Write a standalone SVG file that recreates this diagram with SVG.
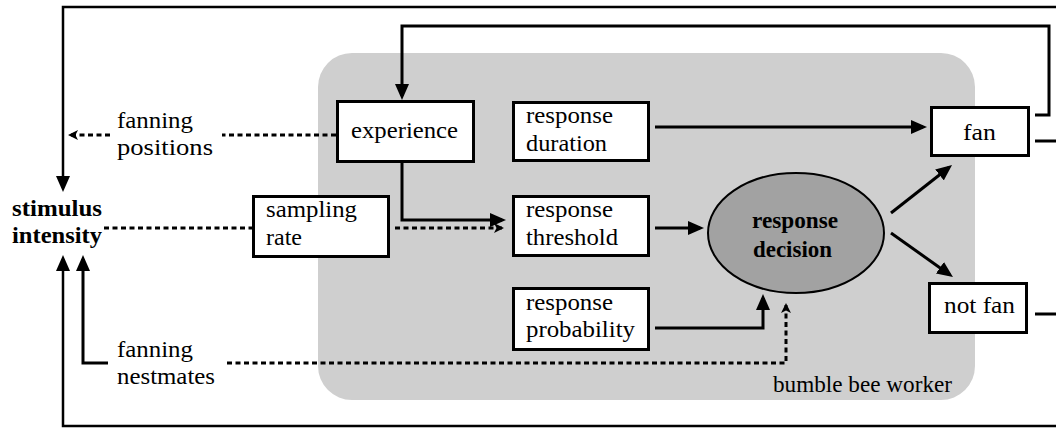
<svg xmlns="http://www.w3.org/2000/svg" width="1056" height="429" viewBox="0 0 1056 429">
  <style>
    .t { font-family: "Liberation Serif", "Times New Roman", serif; font-size: 24px; fill: #000; }
    .b { font-family: "Liberation Serif", "Times New Roman", serif; font-size: 24px; font-weight: bold; fill: #000; }
    .box { fill: #fff; stroke: #000; stroke-width: 3; }
    .solid { fill: none; stroke: #000; stroke-width: 3; }
    .frame { fill: none; stroke: #000; stroke-width: 2.5; }
    .dot { fill: none; stroke: #000; stroke-width: 3; stroke-dasharray: 5 3.5; }
  </style>
  <defs>
    <marker id="arr" viewBox="0 0 16 14" refX="12" refY="7" markerWidth="16" markerHeight="14" markerUnits="userSpaceOnUse" orient="auto">
      <path d="M0,0 L16,7 L0,14 z" fill="#000"/>
    </marker>
    <marker id="sarr" viewBox="0 0 10 10" refX="8" refY="5" markerWidth="10" markerHeight="10" markerUnits="userSpaceOnUse" orient="auto">
      <path d="M0,0 L10,5 L0,10 L2.5,5 z" fill="#000"/>
    </marker>
  </defs>

  <!-- worker body background -->
  <rect id="worker" x="318" y="53" width="657" height="347" rx="34" fill="#cfcfcf"/>

  <!-- connectors -->
  <g id="connectors">
    <!-- outer loops back to stimulus intensity -->
    <path class="frame" d="M1056,7 H63 V188" marker-end="url(#arr)"/>
    <path class="frame" d="M1056,426 H63 V259" marker-end="url(#arr)"/>
    <path class="solid" d="M108,363 H83 V259" marker-end="url(#arr)"/>
    <!-- fan feeds back into experience -->
    <path class="solid" d="M1035,115 H1049 V26 H402 V96" marker-end="url(#arr)"/>
    <path class="solid" d="M1035,141 H1056"/>
    <path class="solid" d="M1035,314 H1056"/>
    <!-- internal flow -->
    <path class="solid" d="M655,127 H923" marker-end="url(#arr)"/>
    <path class="solid" d="M655,228 H700" marker-end="url(#arr)"/>
    <path class="solid" d="M655,328 H763 V298" marker-end="url(#arr)"/>
    <path class="solid" d="M891,213 L948.9,167.5" marker-end="url(#arr)"/>
    <path class="solid" d="M891,233 L949.7,274.7" marker-end="url(#arr)"/>
    <path class="solid" d="M402,162 V220 H502" marker-end="url(#arr)"/>
    <!-- dotted information links -->
    <path class="dot" d="M395,228 H502" marker-end="url(#sarr)"/>
    <path class="dot" d="M104,228 H252"/>
    <path class="dot" d="M336,135 H222"/>
    <path class="dot" d="M110,135 H70" marker-end="url(#sarr)"/>
    <path class="dot" d="M227,363 H786 V305" marker-end="url(#sarr)"/>
  </g>

  <!-- external labels -->
  <g id="stimulus">
    <text class="b" x="12" y="216" textLength="90" lengthAdjust="spacingAndGlyphs">stimulus</text>
    <text class="b" x="12" y="243" textLength="90" lengthAdjust="spacingAndGlyphs">intensity</text>
  </g>
  <g id="fanning-positions">
    <text class="t" x="117" y="128" textLength="76" lengthAdjust="spacingAndGlyphs">fanning</text>
    <text class="t" x="117" y="155" textLength="96" lengthAdjust="spacingAndGlyphs">positions</text>
  </g>
  <g id="fanning-nestmates">
    <text class="t" x="117" y="357" textLength="76" lengthAdjust="spacingAndGlyphs">fanning</text>
    <text class="t" x="117" y="384" textLength="98" lengthAdjust="spacingAndGlyphs">nestmates</text>
  </g>

  <g id="sampling-rate">
    <rect class="box" x="253.5" y="196.5" width="135" height="60"/>
    <text class="t" x="266" y="217" textLength="91" lengthAdjust="spacingAndGlyphs">sampling</text>
    <text class="t" x="266" y="245" textLength="36" lengthAdjust="spacingAndGlyphs">rate</text>
  </g>
  <g id="experience">
    <rect class="box" x="337.5" y="101.5" width="136" height="60"/>
    <text class="t" x="351" y="138" textLength="107" lengthAdjust="spacingAndGlyphs">experience</text>
  </g>
  <g id="response-duration">
    <rect class="box" x="513.5" y="102.5" width="135" height="58"/>
    <text class="t" x="526" y="123" textLength="87" lengthAdjust="spacingAndGlyphs">response</text>
    <text class="t" x="526" y="151" textLength="81" lengthAdjust="spacingAndGlyphs">duration</text>
  </g>
  <g id="response-threshold">
    <rect class="box" x="513.5" y="196.5" width="135" height="59"/>
    <text class="t" x="526" y="217" textLength="87" lengthAdjust="spacingAndGlyphs">response</text>
    <text class="t" x="526" y="245" textLength="92" lengthAdjust="spacingAndGlyphs">threshold</text>
  </g>
  <g id="response-probability">
    <rect class="box" x="513.5" y="288.5" width="135" height="61"/>
    <text class="t" x="526" y="310" textLength="87" lengthAdjust="spacingAndGlyphs">response</text>
    <text class="t" x="526" y="337" textLength="109" lengthAdjust="spacingAndGlyphs">probability</text>
  </g>
  <g id="response-decision">
    <ellipse cx="796" cy="233" rx="88" ry="60" fill="#a2a2a2" stroke="#000" stroke-width="2"/>
    <text class="b" x="752" y="228" textLength="86" lengthAdjust="spacingAndGlyphs">response</text>
    <text class="b" x="753" y="257" textLength="79" lengthAdjust="spacingAndGlyphs">decision</text>
  </g>
  <g id="fan">
    <rect class="box" x="931.5" y="107.5" width="97" height="48"/>
    <text class="t" x="963" y="140" textLength="33" lengthAdjust="spacingAndGlyphs">fan</text>
  </g>
  <g id="not-fan">
    <rect class="box" x="929.5" y="283.5" width="97" height="49"/>
    <text class="t" x="944" y="313" textLength="71" lengthAdjust="spacingAndGlyphs">not fan</text>
  </g>
  <g id="worker-label">
    <text class="t" x="773" y="392" textLength="179" lengthAdjust="spacingAndGlyphs" style="font-size:23px">bumble bee worker</text>
  </g>
</svg>
